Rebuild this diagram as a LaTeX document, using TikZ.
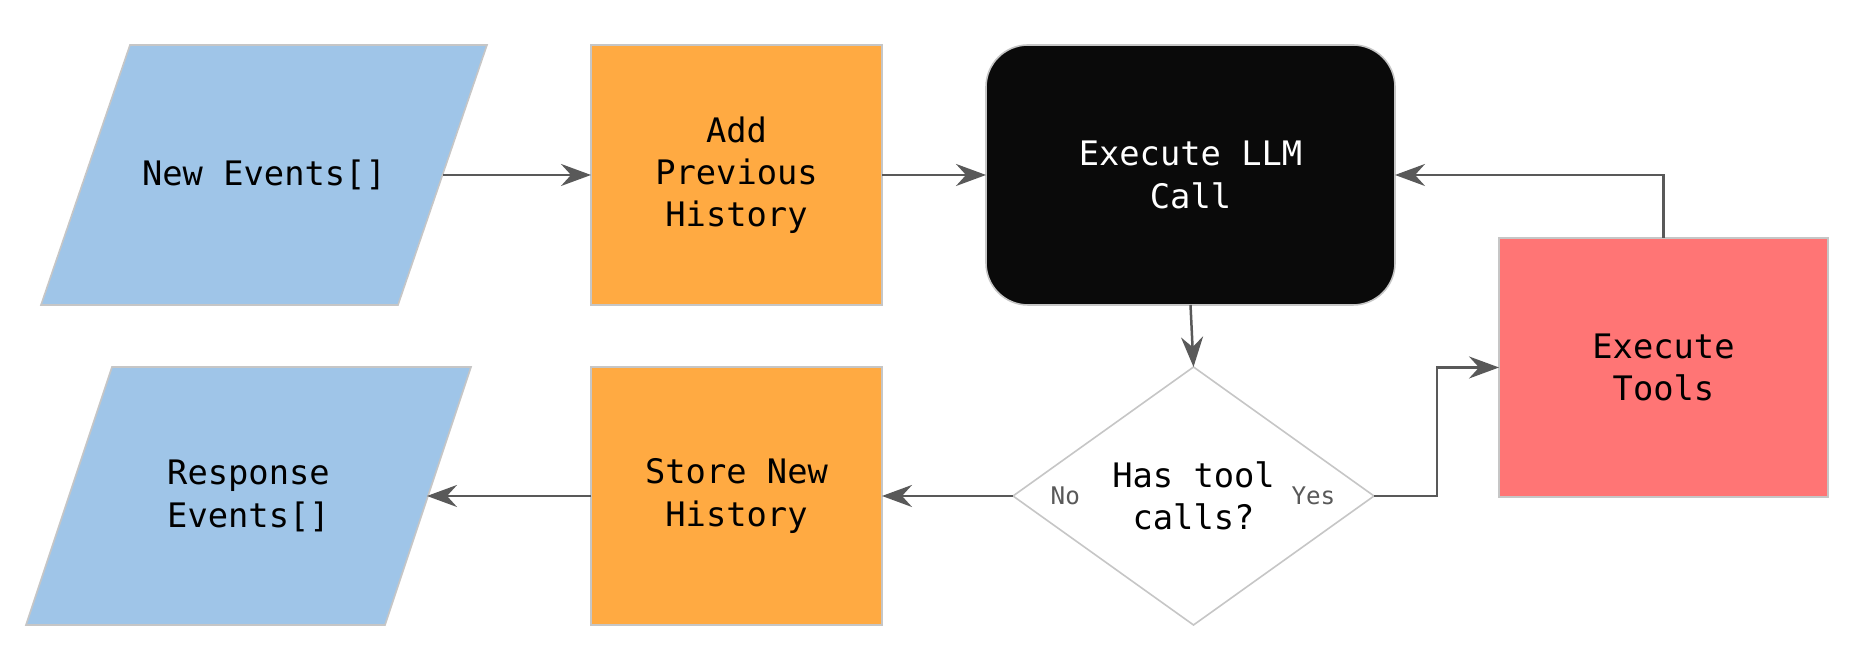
\documentclass[tikz,border=0pt]{standalone}
\usepackage{fontspec}
\setmainfont{DejaVu Sans Mono}
\usetikzlibrary{shapes.geometric,arrows.meta}
\definecolor{eventblue}{HTML}{9FC5E8}
\definecolor{historyorange}{HTML}{FFAA42}
\definecolor{llmblack}{HTML}{0A0A0A}
\definecolor{toolred}{HTML}{FF7575}
\definecolor{edgegrey}{HTML}{C6C6C6}
\definecolor{flowgrey}{HTML}{595959}
\tikzset{
  shapebase/.style={draw=edgegrey, line width=0.016cm, inner sep=0pt, outer sep=0pt,
    align=center, font=\fontsize{9.6}{12}\selectfont},
  eventtext/.style={shapebase, draw=none, rectangle, minimum width=3.57cm, minimum height=2.60cm},
  eventshape/.style={fill=eventblue, draw=edgegrey, line width=0.016cm},
  history/.style={shapebase, rectangle, fill=historyorange, minimum width=2.91cm, minimum height=2.60cm},
  llmcall/.style={shapebase, rectangle, rounded corners=0.42cm, fill=llmblack, text=white,
    minimum width=4.09cm, minimum height=2.60cm},
  toolrun/.style={shapebase, rectangle, fill=toolred, minimum width=3.29cm, minimum height=2.59cm},
  decision/.style={shapebase, diamond, fill=white, minimum width=3.61cm, minimum height=2.58cm},
  flow/.style={draw=flowgrey, line width=0.025cm, -{Stealth[length=0.30cm, width=0.22cm, inset=0.10cm]}},
  branchlabel/.style={font=\fontsize{6.9}{8}\selectfont, text=flowgrey, inner sep=0pt}
}
\begin{document}
\begin{tikzpicture}
            \useasboundingbox (0.000000,0.000000) rectangle (18.560000,6.620000);
            
            % Input events (slanted box, then its text)
            \filldraw [eventshape] (0.410000,3.570000) -- (1.300000,6.170000) -- (4.870000,6.170000) -- (3.980000,3.570000) -- cycle;%
            \node [eventtext] (newev) at (2.640000,4.870000) {New Events[]};%
            
            % History before the call
            \node [history] (addhist) at (7.365000,4.870000) {Add\\Previous\\History};%
            
            % LLM call
            \node [llmcall] (llm) at (11.905000,4.870000) {Execute LLM\\Call};%
            
            % Tools
            \node [toolrun] (tools) at (16.635000,2.945000) {Execute\\Tools};%
            
            % Decision
            \node [decision] (dec) at (11.935000,1.660000) {Has tool\\calls?};%
            \node [branchlabel, anchor=west] (no) at ([xshift=0.37cm]dec.west) {No};%
            \node [branchlabel, anchor=east] (yes) at ([xshift=-0.38cm]dec.east) {Yes};%
            
            % History after the call
            \node [history, minimum height=2.58cm] (storehist) at (7.365000,1.660000) {Store New\\History};%
            
            % Output events (slanted box, then its text)
            \filldraw [eventshape] (0.260000,0.370000) -- (1.120000,2.950000) -- (4.710000,2.950000) -- (3.850000,0.370000) -- cycle;%
            \node [eventtext, minimum height=2.58cm] (respev) at (2.485000,1.660000) {Response\\Events[]};%
            
            % Drawing connectors
            \coordinate (yesbend) at (14.370000,1.660000);%
            \draw [flow] (newev.east) -- (addhist.west);%
            \draw [flow] (addhist.east) -- (llm.west);%
            \draw [flow] (llm.south) -- (dec.north);%
            \draw [flow] (dec.east) -- (yesbend) |- (tools.west);%
            \draw [flow] (tools.north) |- (llm.east);%
            \draw [flow] (dec.west) -- (storehist.east);%
            \draw [flow] (storehist.west) -- (respev.east);%
        \end{tikzpicture}
\end{document}
